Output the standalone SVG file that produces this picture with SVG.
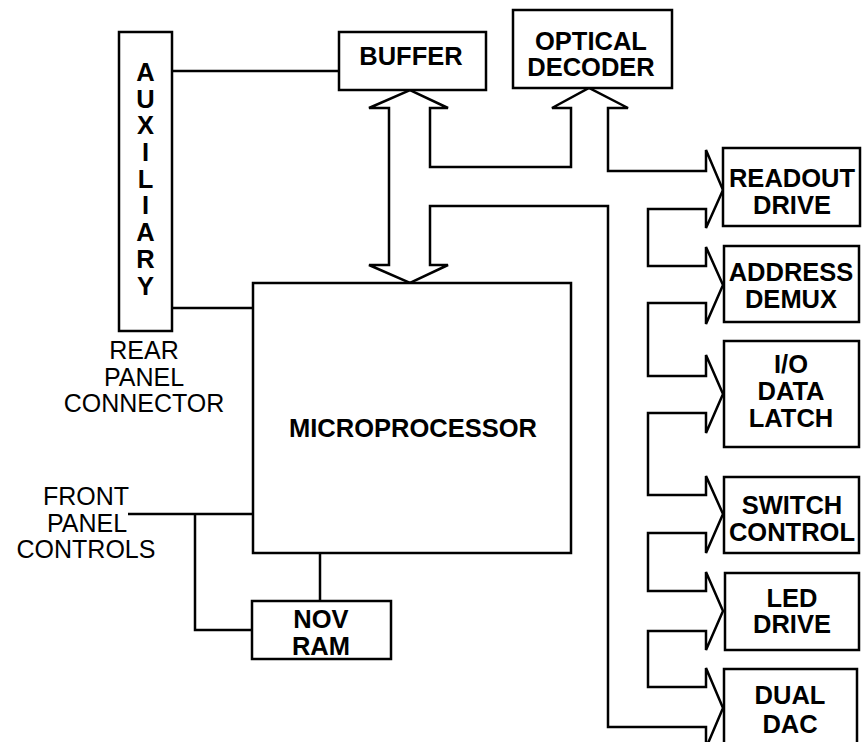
<svg xmlns="http://www.w3.org/2000/svg" width="862" height="742" viewBox="0 0 862 742">
<style>
.box{fill:#fff;stroke:#000;stroke-width:2.5}
.ln{fill:none;stroke:#000;stroke-width:2.5}
.bus{fill:#fff;stroke:#000;stroke-width:2.5;stroke-linejoin:miter}
.b{font-family:"Liberation Sans",Arial,Helvetica,sans-serif;font-weight:bold;font-size:25.5px;text-anchor:middle;fill:#000}
.r{font-family:"Liberation Sans",Arial,Helvetica,sans-serif;font-size:25px;text-anchor:middle;fill:#000}
</style>
<rect width="862" height="742" fill="#fff"/>
<g id="connectors">
<polyline class="ln" points="172,71 339,71"/>
<polyline class="ln" points="172,308 253,308"/>
<polyline class="ln" points="128,514 253,514"/>
<polyline class="ln" points="195,514 195,630 252,630"/>
<polyline class="ln" points="320,553 320,601"/>
<path class="bus" d="M369,108 L410,90 L448,108 L430,108 L430,167 L571,167 L571,108 L552,108 L589,88 L628,108 L608,108 L608,171 L706,171 L706,150 L723,190 L706,228 L706,209 L648,209 L648,266 L706,266 L706,247 L723,285 L706,324 L706,303 L648,303 L648,376 L706,376 L706,355 L723,394 L706,433 L706,413 L648,413 L648,495 L706,495 L706,476 L723,514 L706,553 L706,533 L648,533 L648,591 L706,591 L706,572 L723,611 L706,650 L706,631 L648,631 L648,687 L706,687 L706,668 L723,708 L706,748 L706,727 L608,727 L608,206 L430,206 L430,265 L448,265 L410,283 L369,265 L389,265 L389,108 Z"/>
</g>
<g id="auxiliary">
<rect class="box" x="119" y="32" width="53" height="299"/>
<text class="b" x="145.5" y="81">A</text>
<text class="b" x="145.5" y="108">U</text>
<text class="b" x="145.5" y="134">X</text>
<text class="b" x="145.5" y="161">I</text>
<text class="b" x="145.5" y="188">L</text>
<text class="b" x="145.5" y="214">I</text>
<text class="b" x="145.5" y="241">A</text>
<text class="b" x="145.5" y="268">R</text>
<text class="b" x="145.5" y="295">Y</text>
</g>
<g id="rear-label">
<text class="r" x="144" y="359">REAR</text>
<text class="r" x="144" y="386">PANEL</text>
<text class="r" x="144" y="412">CONNECTOR</text>
</g>
<g id="front-label">
<text class="r" x="86" y="505">FRONT</text>
<text class="r" x="87" y="532">PANEL</text>
<text class="r" x="86" y="558">CONTROLS</text>
</g>
<g id="buffer">
<rect class="box" x="339" y="32" width="147" height="58"/>
<text class="b" x="411" y="65">BUFFER</text>
</g>
<g id="optical-decoder">
<rect class="box" x="513" y="10" width="159" height="78"/>
<text class="b" x="591" y="50">OPTICAL</text>
<text class="b" x="591" y="76">DECODER</text>
</g>
<g id="microprocessor">
<rect class="box" x="253" y="283" width="318" height="270"/>
<text class="b" x="413" y="437">MICROPROCESSOR</text>
</g>
<g id="nov-ram">
<rect class="box" x="252" y="601" width="139" height="58"/>
<text class="b" x="321" y="628">NOV</text>
<text class="b" x="321" y="655">RAM</text>
</g>
<g id="readout-drive">
<rect class="box" x="723" y="148" width="137" height="78"/>
<text class="b" x="792" y="187">READOUT</text>
<text class="b" x="792" y="214">DRIVE</text>
</g>
<g id="address-demux">
<rect class="box" x="724" y="246" width="135" height="76"/>
<text class="b" x="791" y="281">ADDRESS</text>
<text class="b" x="791" y="308">DEMUX</text>
</g>
<g id="io-data-latch">
<rect class="box" x="724" y="341" width="135" height="106"/>
<text class="b" x="791" y="373">I/O</text>
<text class="b" x="791" y="400">DATA</text>
<text class="b" x="791" y="427">LATCH</text>
</g>
<g id="switch-control">
<rect class="box" x="724" y="477" width="135" height="76"/>
<text class="b" x="792" y="514">SWITCH</text>
<text class="b" x="792" y="541">CONTROL</text>
</g>
<g id="led-drive">
<rect class="box" x="725" y="573" width="134" height="77"/>
<text class="b" x="792" y="607">LED</text>
<text class="b" x="792" y="633">DRIVE</text>
</g>
<g id="dual-dac">
<rect class="box" x="724" y="669" width="133" height="100"/>
<text class="b" x="790" y="704">DUAL</text>
<text class="b" x="790" y="733">DAC</text>
</g>
</svg>
